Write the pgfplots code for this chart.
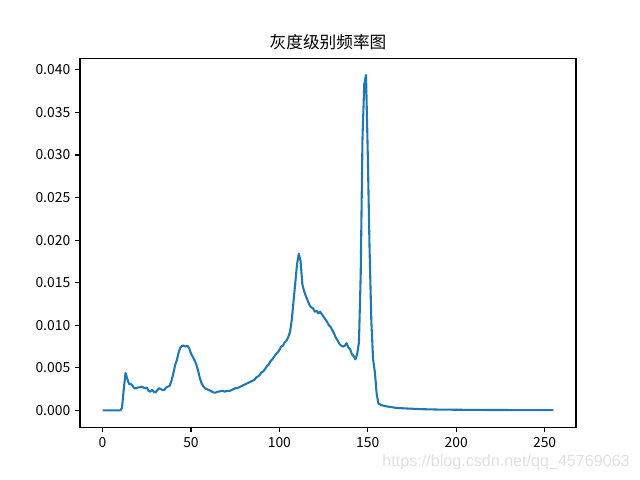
\documentclass[border=0pt]{standalone}
\usepackage{pgfplots}
\pgfplotsset{compat=1.18}
\usepackage{fontspec}
\setmainfont{Noto Sans CJK SC}
\newfontfamily\wm{Liberation Sans}
\definecolor{mplblue}{HTML}{1F77B4}
\begin{document}
\begin{tikzpicture}[x=1pt,y=1pt]
\useasboundingbox (0,0) rectangle (460.8,345.6);
\begin{axis}[
  at={(57.6pt,38.016pt)}, anchor=south west,
  scale only axis, width=357.12pt, height=265.68pt,
  xmin=-12.75, xmax=267.75,
  ymin=-0.00197, ymax=0.04137,
  xtick={0,50,100,150,200,250},
  ytick={0,0.005,0.010,0.015,0.020,0.025,0.030,0.035,0.040},
  scaled y ticks=false,
  yticklabel style={/pgf/number format/.cd,fixed,fixed zerofill,precision=3},
  /pgf/number format/assume math mode=true,
  tick align=outside, tick pos=left,
  major tick length=3.5pt,
  every tick/.style={black, line width=0.8pt},
  axis line style={line width=0.8pt},
  ticklabel style={font=\fontsize{10}{12}\selectfont},
  title={灰度级别频率图},
  title style={font=\fontsize{12}{14}\selectfont, yshift=-3.8pt},
]
\addplot[mplblue, line width=1.5pt, line join=round] coordinates {
(0,0) (1,0) (2,0) (3,0) (4,0) (5,0) (6,0) (7,0) (8,0) (9,0) (10,0)
(11,0.0003) (12,0.0025) (13,0.0044) (14,0.0037) (15,0.0031) (16,0.0031) (17,0.0029) (18,0.0026) (19,0.0026) (20,0.0027)
(21,0.0027) (22,0.0028) (23,0.0027) (24,0.0026) (25,0.0027) (26,0.0023) (27,0.0022) (28,0.0024) (29,0.0022) (30,0.0021)
(31,0.0024) (32,0.0026) (33,0.0025) (34,0.0024) (35,0.0024) (36,0.0027) (37,0.0028) (38,0.0029) (39,0.0035) (40,0.0043)
(41,0.0053) (42,0.0059) (43,0.0068) (44,0.0074) (45,0.0076) (46,0.0076) (47,0.0075) (48,0.0076) (49,0.0073) (50,0.0067)
(51,0.0063) (52,0.0059) (53,0.0054) (54,0.0047) (55,0.0038) (56,0.0032) (57,0.0028) (58,0.0026) (59,0.0025) (60,0.0024)
(61,0.0023) (62,0.0022) (63,0.0021) (64,0.0021) (65,0.0022) (66,0.0022) (67,0.0023) (68,0.0023) (69,0.0022) (70,0.0023)
(71,0.0023) (72,0.0023) (73,0.0024) (74,0.0025) (75,0.0026) (76,0.0026) (77,0.0027) (78,0.0028) (79,0.0029) (80,0.0030)
(81,0.0031) (82,0.0032) (83,0.0033) (84,0.0034) (85,0.0035) (86,0.0036) (87,0.0039) (88,0.0040) (89,0.0042) (90,0.0045)
(91,0.0046) (92,0.0049) (93,0.0052) (94,0.0054) (95,0.0058) (96,0.0060) (97,0.0063) (98,0.0066) (99,0.0068) (100,0.0071)
(101,0.0075) (102,0.0076) (103,0.0080) (104,0.0082) (105,0.0086) (106,0.0092) (107,0.0106) (108,0.0128) (109,0.0150) (110,0.0172)
(111,0.0184) (112,0.0175) (113,0.0148) (114,0.0140) (115,0.0134) (116,0.0129) (117,0.0124) (118,0.0121) (119,0.0120) (120,0.0116)
(121,0.0117) (122,0.0114) (123,0.0116) (124,0.0113) (125,0.0110) (126,0.0107) (127,0.0104) (128,0.0100) (129,0.0098) (130,0.0094)
(131,0.0090) (132,0.0085) (133,0.0082) (134,0.0078) (135,0.0076) (136,0.0075) (137,0.0076) (138,0.0079) (139,0.0074) (140,0.0072)
(141,0.0066) (142,0.0064) (143,0.0060) (144,0.0066) (145,0.0080) (146,0.0160) (147,0.0320) (148,0.0383) (149,0.0394) (150,0.0300)
(151,0.0190) (152,0.0105) (153,0.0060) (154,0.0045) (155,0.0020) (156,0.0008) (157,0.0007) (158,0.0006) (160,0.0005)
(163,0.0004) (166,0.0003) (170,0.00025) (175,0.0002) (180,0.00015) (190,0.0001) (200,0.00008) (220,0.00005) (240,0.00004) (255,0.00003)
};
\end{axis}
\node[anchor=east, inner sep=0pt, text=black!12, font=\wm\fontsize{11.6}{13}\selectfont] at (453.6,12.96) {https://blog.csdn.net/qq\_45769063};
\end{tikzpicture}
\end{document}
